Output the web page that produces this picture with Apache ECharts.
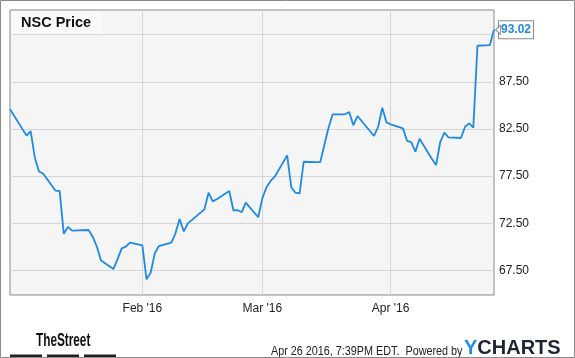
<!DOCTYPE html>
<html>
<head>
<meta charset="utf-8">
<script src="https://cdn.jsdelivr.net/npm/echarts@6/dist/echarts.min.js"></script>
<style>
html,body{margin:0;padding:0;background:#fff;}
#c{width:575px;height:358px;}
</style>
</head>
<body>
<div id="c"></div>
<script>
// ---- data ----
const seriesName = 'NSC Price';
const dates = [
  '2015-12-31',
  '2016-01-04','2016-01-05','2016-01-06','2016-01-07','2016-01-08',
  '2016-01-11','2016-01-12','2016-01-13','2016-01-14','2016-01-15',
  '2016-01-19','2016-01-20','2016-01-21','2016-01-22',
  '2016-01-25','2016-01-26','2016-01-27','2016-01-28','2016-01-29',
  '2016-02-01','2016-02-02','2016-02-03','2016-02-04','2016-02-05',
  '2016-02-08','2016-02-09','2016-02-10','2016-02-11','2016-02-12',
  '2016-02-16','2016-02-17','2016-02-18','2016-02-19',
  '2016-02-22','2016-02-23','2016-02-24','2016-02-25','2016-02-26',
  '2016-02-29','2016-03-01','2016-03-02','2016-03-03','2016-03-04',
  '2016-03-07','2016-03-08','2016-03-09','2016-03-10','2016-03-11',
  '2016-03-14','2016-03-15','2016-03-16','2016-03-17','2016-03-18',
  '2016-03-21','2016-03-22','2016-03-23','2016-03-24',
  '2016-03-28','2016-03-29','2016-03-30','2016-03-31','2016-04-01',
  '2016-04-04','2016-04-05','2016-04-06','2016-04-07','2016-04-08',
  '2016-04-11','2016-04-12','2016-04-13','2016-04-14','2016-04-15',
  '2016-04-18','2016-04-19','2016-04-20','2016-04-21','2016-04-22',
  '2016-04-25','2016-04-26'
];
const prices = [
  84.59,
  81.80, 82.28, 79.46, 78.00, 77.78,
  75.96, 75.93, 71.39, 72.12, 71.72,
  71.79, 71.08, 70.02, 68.55,
  67.65, 68.70, 69.85, 70.02, 70.45,
  70.17, 66.56, 67.26, 69.32, 70.09,
  70.45, 71.44, 72.96, 71.65, 72.50,
  73.98, 75.75, 74.83, 75.05,
  75.93, 73.88, 73.91, 73.67, 74.69,
  73.14, 75.15, 76.32, 76.99, 77.44,
  79.71, 76.32, 75.75, 75.68, 79.03,
  79.00, 79.00, 80.84, 82.64, 84.06,
  84.06, 84.30, 82.89, 83.88,
  81.76, 82.74, 84.76, 83.21, 83.00,
  82.57, 81.23, 81.12, 80.09, 81.47,
  79.32, 78.68, 81.12, 82.11, 81.62,
  81.55, 82.74, 83.10, 82.64, 91.33,
  91.40, 93.02
];
const xTickDates = ['2016-02-01', '2016-03-01', '2016-04-01'];
const yGridValues = [67.5, 72.5, 77.5, 82.5, 87.5, 92.5];
const yLabelValues = [67.5, 72.5, 77.5, 82.5, 87.5];
const monthNames = ['Jan','Feb','Mar','Apr','May','Jun','Jul','Aug','Sep','Oct','Nov','Dec'];
const footerStamp = 'Apr 26 2016, 7:39PM EDT.  Powered by';

// ---- chart ----
const toTs = s => { const p = s.split('-').map(Number); return Date.UTC(p[0], p[1]-1, p[2]); };
const data = dates.map((d, i) => [toTs(d), prices[i]]);
const lineColor = '#1e8ae6';

const chart = echarts.init(document.getElementById('c'), null, {renderer: 'canvas'});
chart.setOption({
  backgroundColor: '#ffffff',
  animation: false,
  title: {
    text: seriesName,
    left: 11, top: 11,
    padding: [4, 10, 4, 10],
    backgroundColor: '#fafafa',
    textStyle: {fontFamily: 'Liberation Sans, Arial, sans-serif', fontSize: 14.5, fontWeight: 'bold', color: '#111', lineHeight: 15}
  },
  grid: {
    left: 10, top: 10, width: 484, height: 285,
    show: true, backgroundColor: '#f5f5f5', borderColor: '#8a8a8a', borderWidth: 1,
    containLabel: false
  },
  xAxis: {
    type: 'value',
    min: toTs(dates[0]), max: toTs(dates[dates.length - 1]),
    axisLine: {show: false},
    axisTick: {show: false, customValues: xTickDates.map(toTs)},
    splitLine: {show: true, lineStyle: {color: '#d6d6d6', width: 1}},
    axisLabel: {
      customValues: xTickDates.map(toTs),
      margin: 8,
      color: '#222', fontSize: 12, fontFamily: 'Liberation Sans, Arial, sans-serif',
      formatter: v => { const d = new Date(v); return monthNames[d.getUTCMonth()] + " '" + String(d.getUTCFullYear()).slice(2); }
    }
  },
  yAxis: {
    type: 'value', position: 'right',
    min: 64.9, max: 95.12,
    axisLine: {show: false},
    axisTick: {show: false, customValues: yGridValues},
    splitLine: {show: true, lineStyle: {color: '#d6d6d6', width: 1}},
    axisLabel: {
      customValues: yLabelValues,
      margin: 5,
      color: '#222', fontSize: 12, fontFamily: 'Liberation Sans, Arial, sans-serif',
      formatter: v => v.toFixed(2)
    }
  },
  series: [{
    name: seriesName,
    type: 'line',
    data: data,
    showSymbol: false,
    symbol: 'none',
    lineStyle: {color: lineColor, width: 1.8},
    endLabel: {
      show: true,
      distance: 5,
      formatter: p => p.value[1].toFixed(2),
      color: lineColor, fontWeight: 'bold', fontSize: 12,
      fontFamily: 'Liberation Sans, Arial, sans-serif',
      backgroundColor: '#ffffff', borderColor: '#8a8a8a', borderWidth: 1,
      padding: [3, 2, 2, 2]
    },
    markPoint: {
      silent: true,
      symbol: 'triangle', symbolRotate: 90, symbolSize: [9, 5], symbolOffset: [4, 0],
      itemStyle: {color: '#ffffff', borderColor: '#8a8a8a', borderWidth: 1},
      label: {show: false},
      data: [{coord: data[data.length - 1]}]
    }
  }],
  graphic: [
    {type: 'rect', shape: {x: 0.5, y: 0.5, width: 574, height: 357}, style: {fill: 'none', stroke: '#8a8a8a', lineWidth: 1}, z: 100},
    {type: 'text', x: 36, y: 341, scaleX: 0.62, style: {text: 'TheStreet', font: 'bold 19px "Liberation Sans", Arial, sans-serif', fill: '#111', verticalAlign: 'middle', align: 'left'}},
    {type: 'rect', shape: {x: 10, y: 354.5, width: 32, height: 3}, style: {fill: '#222'}},
    {type: 'rect', shape: {x: 47, y: 354.5, width: 32, height: 3}, style: {fill: '#222'}},
    {type: 'rect', shape: {x: 84, y: 354.5, width: 32, height: 3}, style: {fill: '#222'}},
    {type: 'text', x: 271, y: 351.5, scaleX: 0.9, style: {text: footerStamp, font: '12px "Liberation Sans", Arial, sans-serif', fill: '#222', verticalAlign: 'middle', align: 'left'}},
    {type: 'text', x: 464, y: 348, style: {
      text: '{y|Y}{c|CHARTS}', verticalAlign: 'middle', align: 'left',
      rich: {
        y: {font: 'bold 20px "Liberation Sans", Arial, sans-serif', fill: '#1b8fe0'},
        c: {font: 'bold 20px "Liberation Sans", Arial, sans-serif', fill: '#1c2733'}
      }
    }}
  ]
});
</script>
</body>
</html>
